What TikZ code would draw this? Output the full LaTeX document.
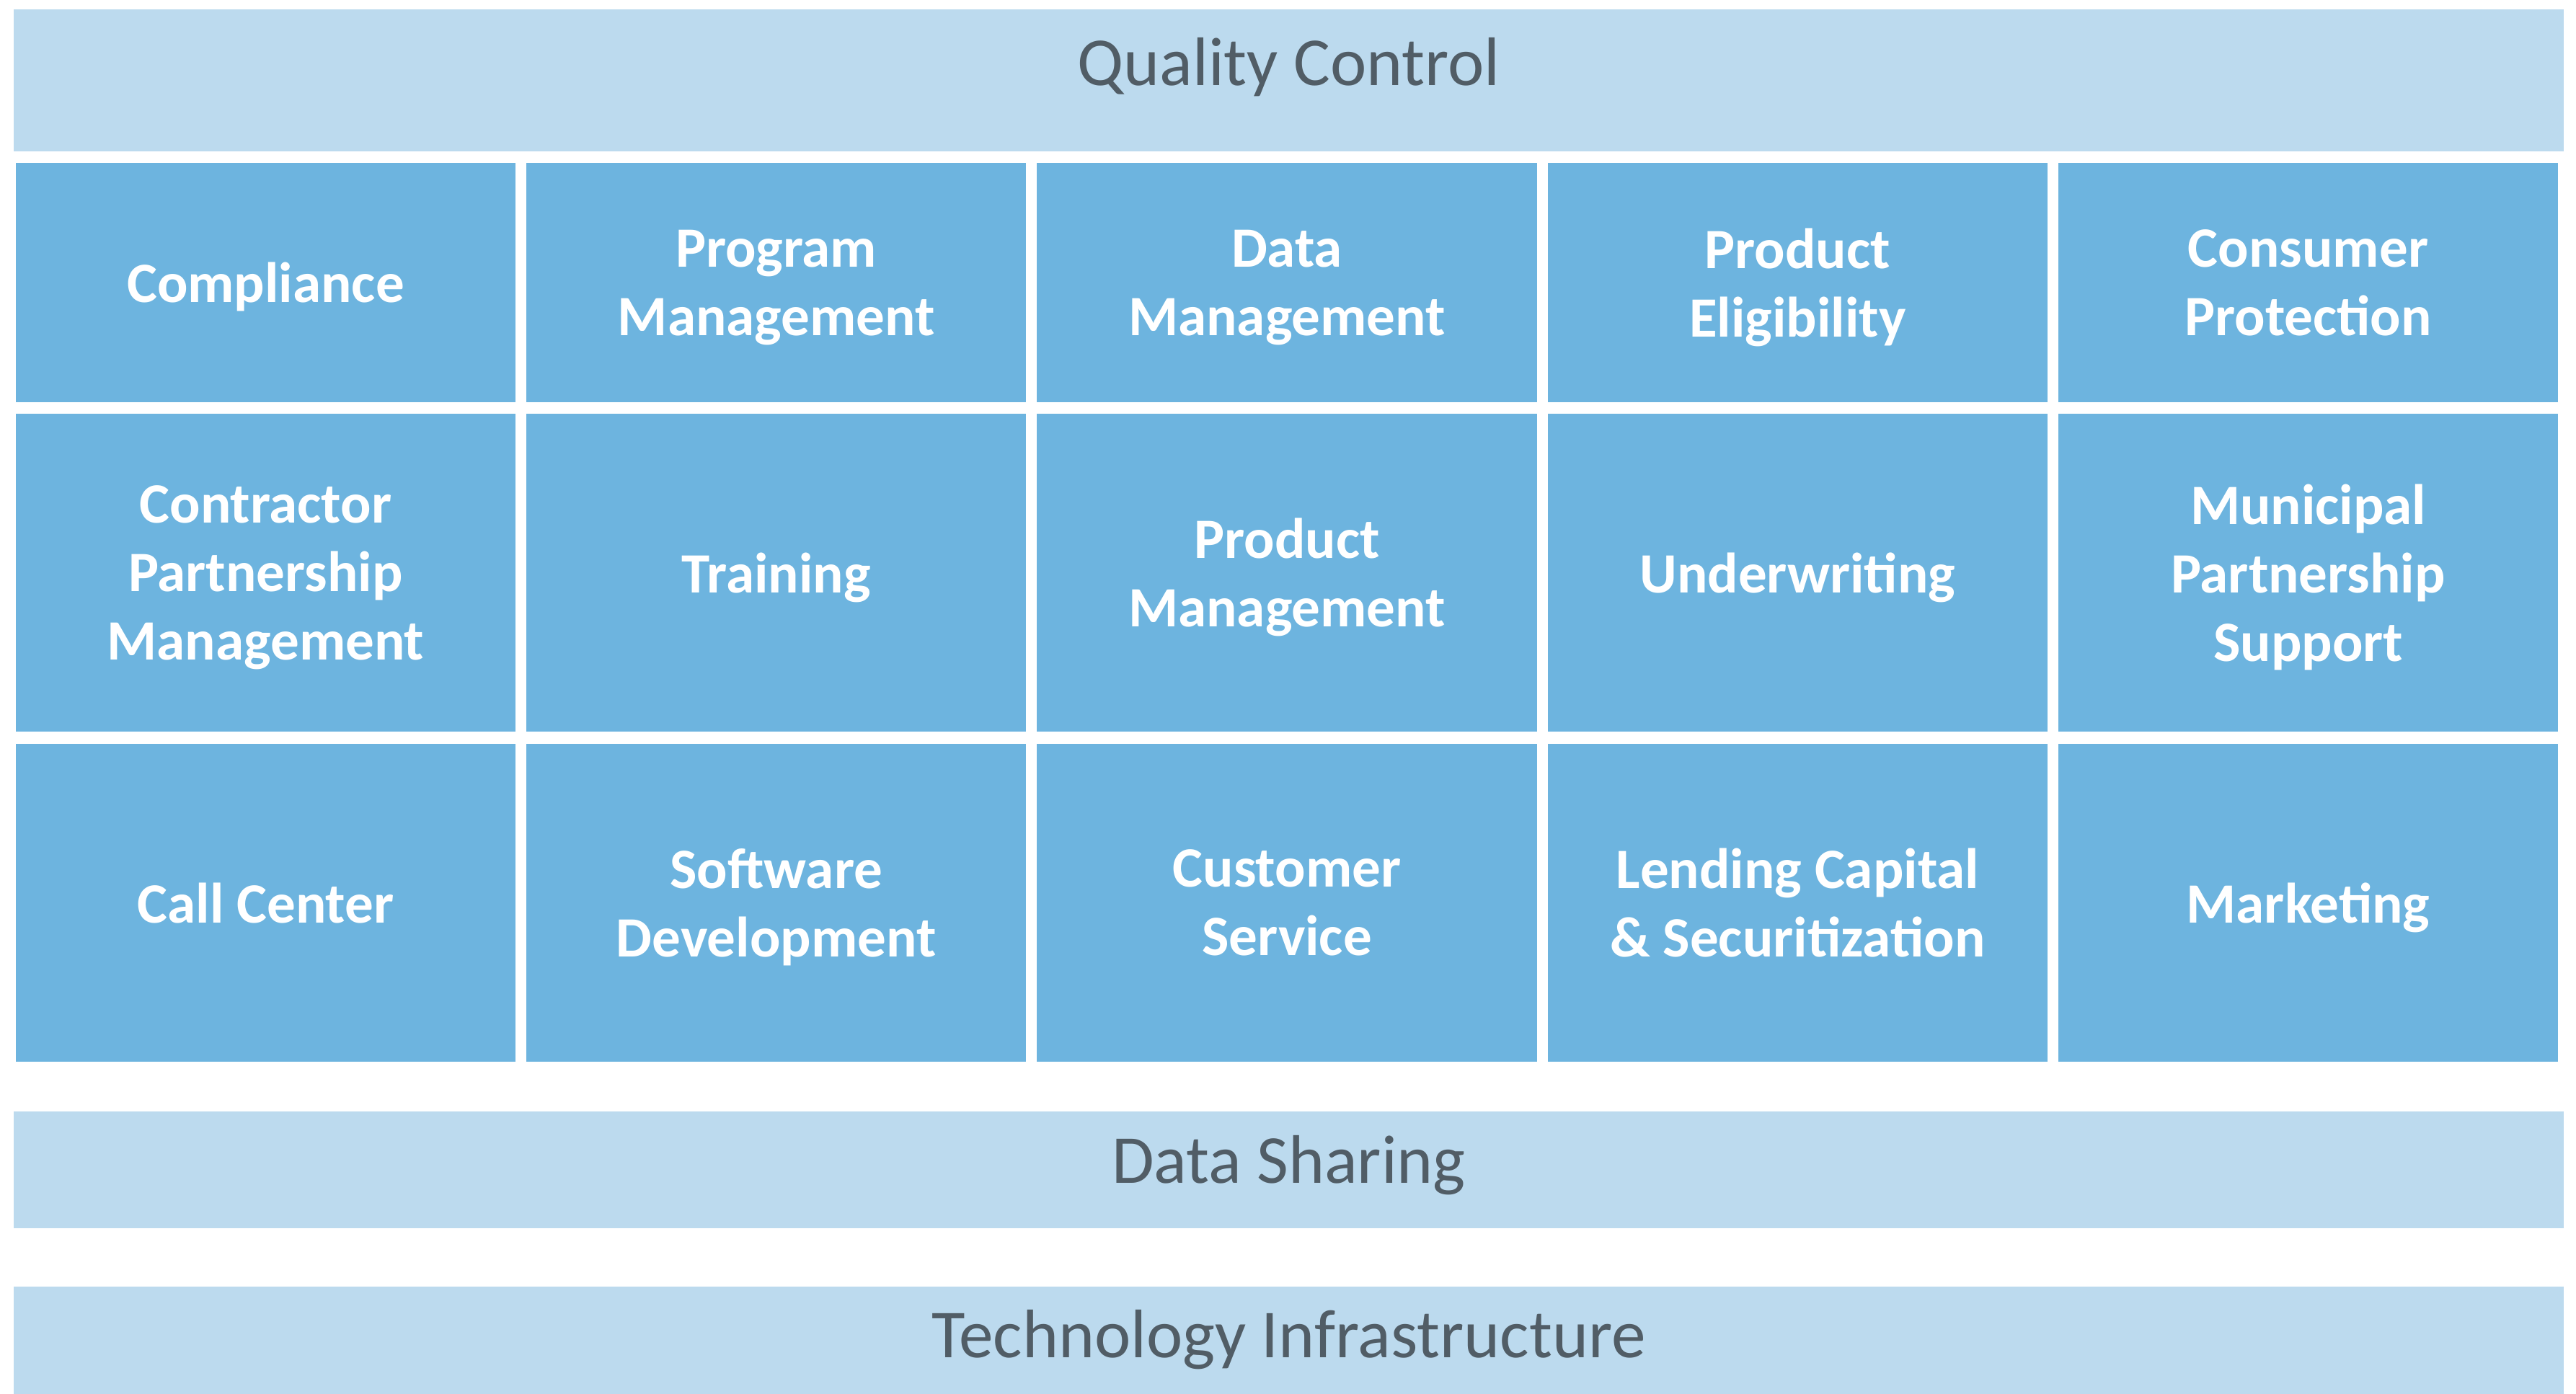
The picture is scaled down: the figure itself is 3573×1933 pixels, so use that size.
\documentclass[tikz,border=0pt]{standalone}
\usepackage{fontspec}
\setmainfont{Carlito}
\usepackage{tikz}
\definecolor{tileblue}{HTML}{6DB4DF}
\definecolor{barblue}{HTML}{BCDAEE}
\definecolor{barink}{HTML}{515D66}
\tikzset{
	tilebox/.style={fill=tileblue, draw=none, minimum width=6.93cm, align=center, text=white,
		text depth=0pt, font=\bfseries\fontsize{22.5}{27}\selectfont},
	barbox/.style={fill=barblue, draw=none, minimum width=35.35cm, inner sep=0pt},
	bartext/.style={anchor=base, text=barink, inner sep=0pt, font=\fontsize{27.1}{32}\selectfont}
}
\newcommand{\tile}[5] % name, column (1-5), row centre in px, row height, text
{
	\node[tilebox, minimum height=#4] (#1) at ({368.5+708.25*(#2-1)}, #3) {#5};
}

\begin{document}
\begin{tikzpicture}[x=0.01cm, y=-0.01cm]
	% 3573px x 1933px, 1px = 0.01cm, y counted from the top
	\useasboundingbox (0, 0) rectangle (3573, 1933);
	
	% bars
	\node[barbox, minimum height=1.97cm] (quality) at (1787.5, 111.5) {};
	\node[bartext] (qualitytext) at (1787.5, 118) {Quality Control};
	\node[barbox, minimum height=1.62cm] (sharing) at (1787.5, 1623) {};
	\node[bartext] (sharingtext) at (1787.5, 1641) {Data Sharing};
	\node[barbox, minimum height=1.52cm] (infra) at (1787.5, 1861) {};
	\node[bartext] (infratext) at (1787.5, 1883) {Technology Infrastructure};
	
	% first row
	\tile{compliance}{1}{392}{3.32cm}{Compliance};
	\tile{program}{2}{392}{3.32cm}{Program\\Management};
	\tile{data}{3}{392}{3.32cm}{Data\\Management};
	\tile{eligibility}{4}{392}{3.32cm}{Product\\Eligibility};
	\tile{consumer}{5}{392}{3.32cm}{Consumer\\Protection};
	
	% second row
	\tile{contractor}{1}{794.5}{4.41cm}{Contractor\\Partnership\\Management};
	\tile{training}{2}{794.5}{4.41cm}{Training};
	\tile{product}{3}{794.5}{4.41cm}{Product\\Management};
	\tile{underwriting}{4}{794.5}{4.41cm}{Underwriting};
	\tile{municipal}{5}{794.5}{4.41cm}{Municipal\\Partnership\\Support};
	
	% third row
	\tile{callcenter}{1}{1252.5}{4.41cm}{Call Center};
	\tile{software}{2}{1252.5}{4.41cm}{Software\\Development};
	\tile{customer}{3}{1252.5}{4.41cm}{Customer\\Service};
	\tile{lending}{4}{1252.5}{4.41cm}{Lending Capital\\\& Securitization};
	\tile{marketing}{5}{1252.5}{4.41cm}{Marketing};
	
\end{tikzpicture}
\end{document}
